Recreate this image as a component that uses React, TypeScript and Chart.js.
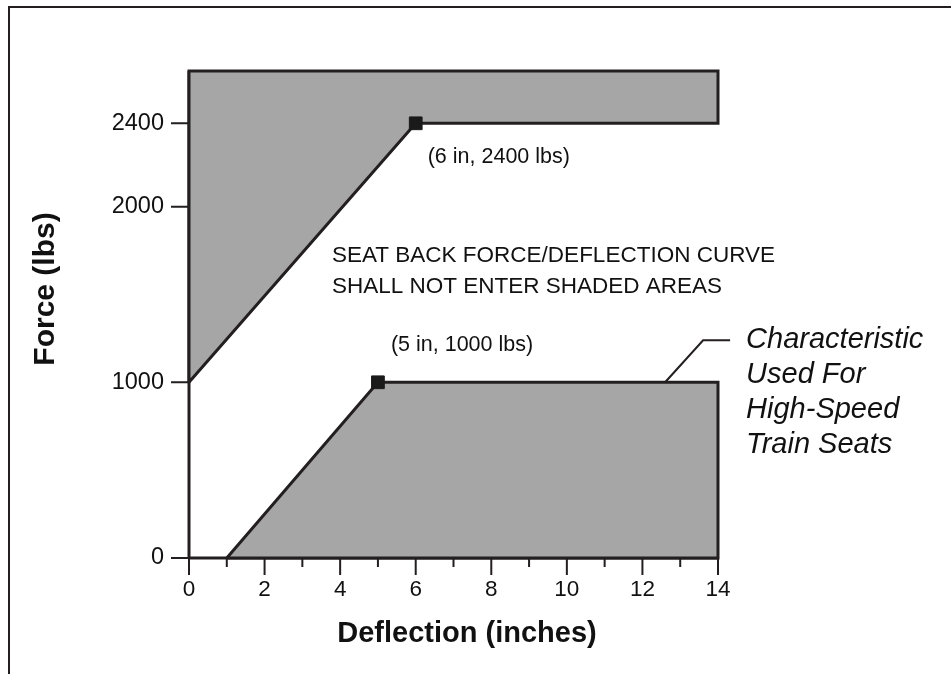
import React, { useEffect, useRef } from "react";
import { Chart, registerables, LinearScale } from "chart.js";

// ---------- data ----------
const xTickValues = [0, 1, 2, 3, 4, 5, 6, 7, 8, 9, 10, 11, 12, 13, 14];
const yTickValues = [0, 1000, 2000, 2400];

// upper forbidden region (deflection in, force lbs)
const upperRegionX = [0, 6, 14, 14, 0, 0];
const upperRegionY = [1000, 2400, 2400, 2650, 2650, 1000];

// lower forbidden region
const lowerRegionX = [1, 5, 14, 14, 1];
const lowerRegionY = [0, 1000, 1000, 0, 0];

// highlighted corner points
const markerX = [6, 5];
const markerY = [2400, 1000];
const markerLabels = ["(6 in, 2400 lbs)", "(5 in, 1000 lbs)"];

const noteLines = ["SEAT BACK FORCE/DEFLECTION CURVE", "SHALL NOT ENTER SHADED AREAS"];
const calloutLines = ["Characteristic", "Used For", "High-Speed", "Train Seats"];
const calloutAnchorX = 12.6; // where the leader line touches the 1000 lbs edge
const calloutAnchorY = 1000;

const xTitle = "Deflection (inches)";
const yTitle = "Force (lbs)";

// the original figure uses a non-uniform force axis
const yBreakValues = [0, 1000, 2000, 2400, 2650];
const yBreakFractions = [0, 0.3608, 0.7214, 0.8926, 1];

// ---------- styles ----------
const FONT = "'Liberation Sans', Arial, Helvetica, sans-serif";
const INK = "#231f20";
const TEXT = "#111111";
const SHADE = "#a6a6a6";

class PiecewiseScale extends LinearScale {
  static id = "piecewise";
  static defaults = LinearScale.defaults;
  getPixelForValue(value: any) {
    if (value === null || value === undefined || isNaN(value)) return NaN;
    const v = Number(value);
    let i = 0;
    while (i < yBreakValues.length - 2 && v > yBreakValues[i + 1]) i++;
    const t = (v - yBreakValues[i]) / (yBreakValues[i + 1] - yBreakValues[i]);
    const frac = yBreakFractions[i] + t * (yBreakFractions[i + 1] - yBreakFractions[i]);
    return (this as any).getPixelForDecimal(frac);
  }
  getValueForPixel(pixel: number) {
    const frac = (this as any).getDecimalForPixel(pixel);
    let i = 0;
    while (i < yBreakFractions.length - 2 && frac > yBreakFractions[i + 1]) i++;
    const t = (frac - yBreakFractions[i]) / (yBreakFractions[i + 1] - yBreakFractions[i]);
    return yBreakValues[i] + t * (yBreakValues[i + 1] - yBreakValues[i]);
  }
}

Chart.register(...registerables, PiecewiseScale as any);

const toPoints = (xs: number[], ys: number[]) => xs.map((x, i) => ({ x, y: ys[i] }));

const decorPlugin = {
  id: "decor",
  beforeDatasetsDraw(chart: any) {
    const { ctx, scales } = chart;
    const xs = scales.x;
    const ys = scales.y;
    const x0 = xs.getPixelForValue(0);
    const x14 = xs.getPixelForValue(14);
    const y0 = ys.getPixelForValue(0);
    const yTop = ys.getPixelForValue(yBreakValues[yBreakValues.length - 1]);
    ctx.save();
    ctx.strokeStyle = INK;
    ctx.lineCap = "butt";
    // axes
    ctx.lineWidth = 3;
    ctx.beginPath();
    ctx.moveTo(x0, yTop);
    ctx.lineTo(x0, y0);
    ctx.moveTo(x0, y0);
    ctx.lineTo(x14, y0);
    ctx.stroke();
    // y ticks
    ctx.lineWidth = 2;
    ctx.beginPath();
    yTickValues.forEach((v) => {
      const py = ys.getPixelForValue(v);
      ctx.moveTo(x0 - 18, py);
      ctx.lineTo(x0, py);
    });
    // x ticks
    xTickValues.forEach((v) => {
      const px = xs.getPixelForValue(v);
      const len = v % 2 === 0 ? 17 : 9;
      ctx.moveTo(px, y0);
      ctx.lineTo(px, y0 + len);
    });
    ctx.stroke();
    ctx.restore();
  },
  afterDraw(chart: any) {
    const { ctx, scales, chartArea } = chart;
    const xs = scales.x;
    const ys = scales.y;
    ctx.save();
    // outer frame (left and top edges)
    ctx.strokeStyle = INK;
    ctx.lineWidth = 2;
    ctx.beginPath();
    ctx.moveTo(9, 674);
    ctx.lineTo(9, 7);
    ctx.lineTo(951, 7);
    ctx.stroke();

    ctx.fillStyle = TEXT;
    ctx.textAlign = "left";
    ctx.textBaseline = "alphabetic";

    // marker labels
    ctx.font = `21.5px ${FONT}`;
    const offs = [
      [12, 40],
      [13, -31],
    ];
    markerLabels.forEach((lab, i) => {
      const px = xs.getPixelForValue(markerX[i]);
      const py = ys.getPixelForValue(markerY[i]);
      ctx.fillText(lab, px + offs[i][0], py + offs[i][1]);
    });

    // central note
    ctx.font = `22.5px ${FONT}`;
    noteLines.forEach((line, i) => {
      ctx.fillText(line, chartArea.left + 143, 262 + i * 31);
    });

    // callout with leader line
    const ax = xs.getPixelForValue(calloutAnchorX);
    const ay = ys.getPixelForValue(calloutAnchorY);
    ctx.strokeStyle = INK;
    ctx.lineWidth = 2;
    ctx.beginPath();
    ctx.moveTo(ax, ay);
    ctx.lineTo(ax + 38, ay - 42);
    ctx.lineTo(ax + 65, ay - 42);
    ctx.stroke();
    ctx.font = `italic 29px ${FONT}`;
    calloutLines.forEach((line, i) => {
      ctx.fillText(line, ax + 81, ay - 34 + i * 34.8);
    });

    // axis titles
    ctx.font = `bold 29px ${FONT}`;
    ctx.textAlign = "center";
    ctx.fillText(xTitle, 467, 642);
    ctx.font = `bold 30px ${FONT}`;
    ctx.translate(54, 289);
    ctx.rotate(-Math.PI / 2);
    ctx.fillText(yTitle, 0, 0);
    ctx.restore();
  },
};

export default function App() {
  const canvasRef = useRef<HTMLCanvasElement | null>(null);

  useEffect(() => {
    const canvas = canvasRef.current;
    if (!canvas) return;
    const chart = new Chart(canvas, {
      type: "line",
      data: {
        datasets: [
          {
            type: "scatter",
            data: toPoints(markerX, markerY),
            pointStyle: "rect",
            pointRadius: 9,
            pointBackgroundColor: "#1a1a1a",
            pointBorderColor: "#1a1a1a",
            pointBorderWidth: 1,
            showLine: false,
            clip: false,
          } as any,
          {
            data: toPoints(upperRegionX, upperRegionY),
            borderColor: INK,
            borderWidth: 3,
            backgroundColor: SHADE,
            fill: "shape",
            pointRadius: 0,
            tension: 0,
            borderJoinStyle: "miter",
            clip: false,
          },
          {
            data: toPoints(lowerRegionX, lowerRegionY),
            borderColor: INK,
            borderWidth: 3,
            backgroundColor: SHADE,
            fill: "shape",
            pointRadius: 0,
            tension: 0,
            borderJoinStyle: "miter",
            clip: false,
          },
        ],
      },
      options: {
        responsive: false,
        animation: false,
        events: [],
        layout: { padding: { top: 71, right: 233, bottom: 0, left: 0 } },
        plugins: {
          legend: { display: false },
          tooltip: { enabled: false },
        },
        scales: {
          x: {
            type: "linear",
            min: 0,
            max: 14,
            afterFit: (s: any) => {
              s.height = 116;
            },
            afterBuildTicks: (s: any) => {
              s.ticks = xTickValues.map((v) => ({ value: v }));
            },
            grid: { display: false, drawTicks: false },
            border: { display: false },
            ticks: {
              padding: 18,
              autoSkip: false,
              maxRotation: 0,
              color: TEXT,
              font: { family: FONT, size: 22.5 },
              callback: (v: any) => (Number(v) % 2 === 0 ? String(v) : ""),
            },
          },
          y: {
            type: "piecewise" as any,
            min: 0,
            max: yBreakValues[yBreakValues.length - 1],
            afterFit: (s: any) => {
              s.width = 189;
            },
            afterBuildTicks: (s: any) => {
              s.ticks = yTickValues.map((v) => ({ value: v }));
            },
            grid: { display: false, drawTicks: false },
            border: { display: false },
            ticks: {
              padding: 25,
              color: TEXT,
              font: { family: FONT, size: 23.5 },
              callback: (v: any) => String(v),
            },
          } as any,
        },
      },
      plugins: [decorPlugin],
    });
    return () => chart.destroy();
  }, []);

  return (
    <div style={{ position: "fixed", left: 0, top: 0, width: 951, height: 674, background: "#fff" }}>
      <canvas ref={canvasRef} width={951} height={674} style={{ display: "block", width: 951, height: 674 }} />
    </div>
  );
}
